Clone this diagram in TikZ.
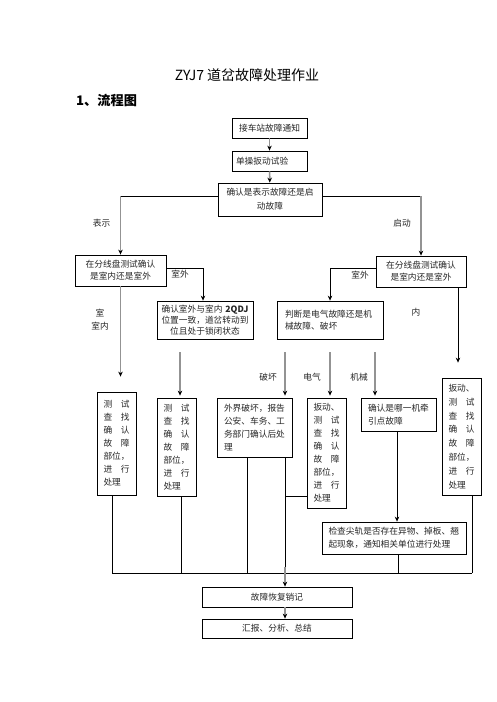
\documentclass[tikz,border=0pt]{standalone}
\usepackage{fontspec}
\setmainfont{Noto Sans CJK SC}
\usetikzlibrary{arrows.meta,calc}
\begin{document}
\begin{tikzpicture}[x=1pt,y=-1pt,
  box/.style={draw, line width=0.8pt, inner sep=0pt, text=black!85, font=\fontsize{8.7}{13}\selectfont},
  garrow/.style={draw=gray!85, line width=1.6pt, -{Stealth[length=5pt,width=4.5pt,black]}},
  bline/.style={draw=black, line width=0.7pt},
  barrow/.style={bline, -{Stealth[length=5pt,width=4.5pt]}},
  lbl/.style={font=\fontsize{8.7}{10}\selectfont, text=black!85, inner sep=0pt},
]
\fill[white] (0,0) rectangle (496,702);
\useasboundingbox (0,0) rectangle (496,702);

\node[font=\fontsize{14}{16}\selectfont, inner sep=0pt] (title) at (247,75) {ZYJ7 道岔故障处理作业};
\node[font=\bfseries\fontsize{13.2}{16}\selectfont, anchor=west, inner sep=0pt] (h1) at (76,100) {1、流程图};

% boxes
\node[box, minimum width=75, minimum height=20, text width=67, align=center] (b1) at (269.5,128) {接车站故障通知};
\node[box, minimum width=75, minimum height=20, text width=67, align=left] (b2) at (269.5,161) {单操扳动试验};
\node[box, minimum width=104, minimum height=33, text width=96, align=center, font=\fontsize{8.7}{14}\selectfont] (b3) at (270,199.5) {确认是表示故障还是启\\动故障};
\node[box, minimum width=91, minimum height=31, text width=85, align=center, font=\fontsize{8.7}{12}\selectfont] (b4L) at (120.5,270.5) {在分线盘测试确认\\是室内还是室外};
\node[box, minimum width=90, minimum height=31, text width=85, align=center, font=\fontsize{8.7}{12}\selectfont] (b4R) at (421,271.5) {在分线盘测试确认\\是室内还是室外};
\node[box, minimum width=96, minimum height=38, text width=92, align=center, font=\fontsize{8.7}{11.3}\selectfont] (b5) at (205,320) {确认室外与室内 \textbf{2QDJ}\\位置一致，道岔转动到\\位且处于锁闭状态};
\node[box, minimum width=106, minimum height=38, text width=90, align=left, font=\fontsize{8.7}{11.5}\selectfont] (b6) at (330,320) {判断是电气故障还是机\\械故障、破坏};
\node[box, minimum width=39, minimum height=103, text width=26, align=left] (b7) at (116.5,443.5) {测\hfill 试\\查\hfill 找\\确\hfill 认\\故\hfill 障\\部位，\\进\hfill 行\\处理};
\node[box, minimum width=39, minimum height=98, text width=26, align=left] (b8) at (176.5,447) {测\hfill 试\\查\hfill 找\\确\hfill 认\\故\hfill 障\\部位，\\进\hfill 行\\处理};
\node[box, minimum width=75, minimum height=59, text width=61, align=left] (b9) at (254.5,427.5) {外界破坏，报告\\公安、车务、工\\务部门确认后处\\理};
\node[box, minimum width=39, minimum height=110, text width=26, align=left] (b10) at (326.5,453) {扳动、\\测\hfill 试\\查\hfill 找\\确\hfill 认\\故\hfill 障\\部位，\\进\hfill 行\\处理};
\node[box, minimum width=75, minimum height=33, text width=61, align=left, font=\fontsize{8.7}{12.5}\selectfont] (b11) at (398.5,414.5) {确认是哪一机牵\\引点故障};
\node[box, minimum width=39, minimum height=117, text width=26, align=left, font=\fontsize{8.7}{13.8}\selectfont] (b12) at (461.5,436.5) {扳动、\\测\hfill 试\\查\hfill 找\\确\hfill 认\\故\hfill 障\\部位，\\进\hfill 行\\处理};
\node[box, minimum width=144, minimum height=32, text width=131, align=left, font=\fontsize{8.7}{12.6}\selectfont] (b13) at (394,538) {检查尖轨是否存在异物、掉板、翘\\起现象，通知相关单位进行处理};
\node[box, minimum width=150, minimum height=20, text width=140, align=center] (b14) at (277,597) {故障恢复销记};
\node[box, minimum width=150, minimum height=19, text width=140, align=center] (b15) at (277,628.5) {汇报、分析、总结};

% labels
\node[lbl] (lshow) at (101.5,223) {表示};
\node[lbl] (lstart) at (402,223) {启动};
\node[lbl] (lout1) at (180,274) {室外};
\node[lbl] (lout2) at (360,275) {室外};
\node[lbl] (lin1a) at (100,313) {室};
\node[lbl] (lin1b) at (100,326) {室内};
\node[lbl] (lin2) at (416,312) {内};
\node[lbl] (lbreak) at (268,377) {破坏};
\node[lbl] (lelec) at (312,377) {电气};
\node[lbl] (lmech) at (359,377) {机械};

% connectors
\draw[garrow] (b1) -- (b2);
\draw[garrow] (b2) -- (b3);
\coordinate (c3L) at ([yshift=3.5]b3.west -| b4L.north);
\coordinate (c3R) at ([yshift=3.5]b3.east -| b4R.north);
\draw[bline] ([yshift=3.5]b3.west) -- (c3L);
\draw[bline] ([yshift=3.5]b3.east) -- (c3R);
\draw[garrow] (c3L) -- (b4L.north);
\draw[garrow] (c3R) -- (b4R.north);

\draw[barrow] ([yshift=2.5]b4L.east) -| ([xshift=-2]b5.north);
\draw[barrow] ([yshift=3.5]b4R.west) -| (b6.north);
\draw[garrow, shorten >=15pt] (b4L.south) -- (b4L.south |- b7.north);
\draw[barrow, shorten >=15pt] ([xshift=37]b4R.south) -- ([xshift=37]b4R.south |- b12.north);

\draw[garrow, shorten <=13pt, shorten >=2pt] ([xshift=-25]b5.south) -- ([xshift=3.5]b8.north);
\draw[garrow, shorten <=13pt, shorten >=2pt] ([xshift=-45]b6.south) -- ([xshift=30.5]b9.north);
\draw[garrow, shorten <=13pt, shorten >=2pt] (b6.south) -- ([xshift=3.5]b10.north);
\draw[garrow, shorten <=13pt, shorten >=2pt] ([xshift=45]b6.south) -- ([xshift=-23.5]b11.north);

\coordinate (busy) at (0,573);
\coordinate (c9R) at ([xshift=30.5]b9.south);
\coordinate (busL) at ([xshift=-4.5]b7.south |- busy);
\coordinate (busR) at ([xshift=10.5]b12.south |- busy);
\draw[bline] ([xshift=-4.5]b7.south) -- (busL);
\draw[bline] ([xshift=4.5]b8.south) -- ([xshift=4.5]b8.south |- busy);
\draw[bline] ([xshift=-7.5]b9.south) -- ([xshift=-7.5]b9.south |- busy);
\draw[bline] (c9R) -- (c9R |- busy);
\draw[bline] ([yshift=-43]b10.west) -- ([yshift=-43]b10.west -| c9R);
\draw[barrow] ([xshift=-1.5]b11.south) -- ([xshift=-1.5]b11.south |- b13.north);
\draw[bline] ([xshift=4]b13.south) -- ([xshift=4]b13.south |- busy);
\draw[bline] ([xshift=10.5]b12.south) -- (busR);
\draw[bline] (busL) -- (busR);
\coordinate (m) at ([xshift=8]b14.north |- busy);
\draw[garrow, shorten <=-6pt] (m) -- ([xshift=8]b14.north);
\draw[garrow] ([xshift=8]b14.south) -- ([xshift=8]b15.north);
\end{tikzpicture}
\end{document}
